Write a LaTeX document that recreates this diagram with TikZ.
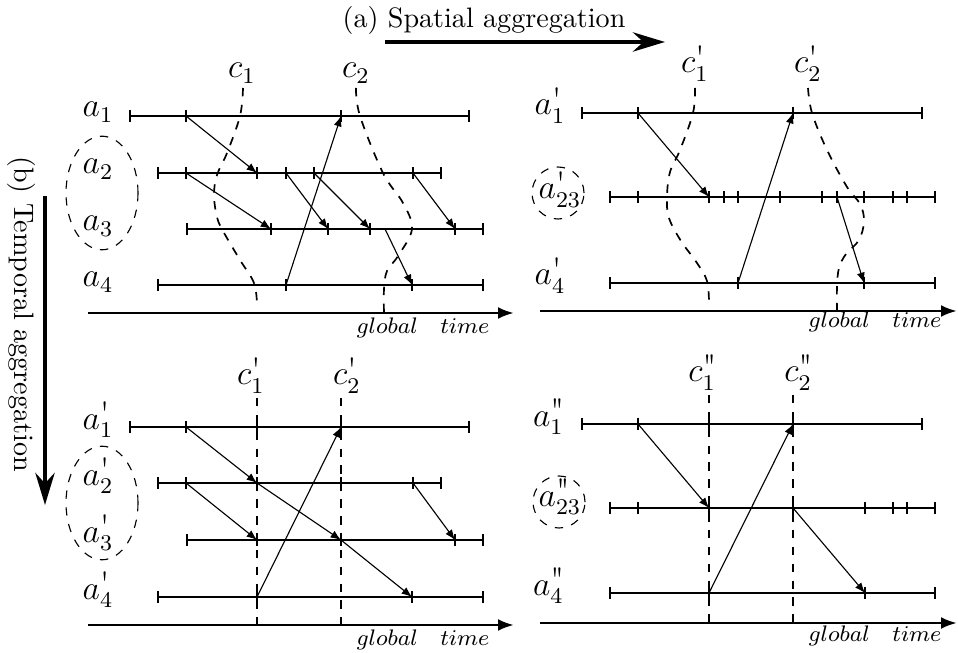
\documentclass[tikz,border=0pt]{standalone}
\usepackage{amsmath}
\usetikzlibrary{arrows.meta}
\newcommand{\pmark}{^{\mbox{\large\raisebox{-3pt}[0pt][0pt]{\textquotesingle}}}}
\newcommand{\ppmark}{^{\mbox{\large\raisebox{-3pt}[0pt][0pt]{\textquotesingle\kern-0.14em\textquotesingle}}}}
% row of events on one process line: name, y, tick positions
\newcommand{\tlrow}[3]{\foreach \tx in {#3} {\coordinate (#1-\tx) at (\tx,#2); \draw[tline] (\tx,#2-6) -- (\tx,#2+6);}}

\begin{document}
\begin{tikzpicture}[x=0.125mm, y=-0.125mm,
  tline/.style={semithick},
  msg/.style={thin, -{Latex[length=1.3mm, width=1mm]}},
  cut/.style={semithick, dashed},
  group/.style={thin, dashed},
  gaxis/.style={line width=1pt, -{Latex[length=2mm, width=1.5mm]}},
  aggarrow/.style={line width=1.6pt, -{Stealth[length=4mm, width=2.4mm]}},
  proc/.style={anchor=base east, inner sep=0pt, font=\large},
  cutlbl/.style={anchor=base, inner sep=0pt, font=\large},
  gtime/.style={anchor=base east, inner sep=0pt, font=\footnotesize},
]
\useasboundingbox (0,0) rectangle (958,653);
% aggregation directions
\node[anchor=base] (spa) at (484,28) {(a) Spatial aggregation};
\coordinate (sa0) at (385,42); \coordinate (sa1) at (665,42);
\draw[aggarrow] (sa0) -- (sa1);
\node[rotate=-90] (tea) at (22,314) {(b) Temporal aggregation};
\coordinate (ta0) at (45,196); \coordinate (ta1) at (45,505);
\draw[aggarrow] (ta0) -- (ta1);

% (top left) original processes
\tlrow{o1}{116}{130,186,341,469}
\tlrow{o2}{173}{158,186,257,286,314,413,441}
\tlrow{o3}{229}{187,271,328,370,455,483}
\tlrow{o4}{285}{158,286,412,483}
\coordinate (o3-385) at (385,229);
\draw[tline] (o1-130) -- (o1-469); \draw[tline] (o2-158) -- (o2-441); \draw[tline] (o3-187) -- (o3-483); \draw[tline] (o4-158) -- (o4-483);
\node[proc] (lo1) at (114,117) {$a_1$}; \node[proc] (lo2) at (114,174) {$a_2$}; \node[proc] (lo3) at (114,231) {$a_3$}; \node[proc] (lo4) at (114,287) {$a_4$};
\draw[group] (102,193) ellipse [x radius=4.5mm, y radius=7.1mm];
\draw[msg] (o1-186) -- (o2-257); \draw[msg] (o2-186) -- (o3-271); \draw[msg] (o2-286) -- (o3-328); \draw[msg] (o2-314) -- (o3-370);
\draw[msg] (o2-413) -- (o3-455); \draw[msg] (o3-385) -- (o4-412); \draw[msg] (o4-286) -- (o1-341);
\node[cutlbl] (oc1) at (242,78) {$c_1$}; \node[cutlbl] (oc2) at (356,78) {$c_2$};
\draw[cut] plot[smooth, tension=0.6] coordinates {(243,88) (240,116) (227,153) (217,175) (214,195) (217,217) (223,231) (240,260) (254,283) (257,305)};
\draw[cut] plot[smooth, tension=0.6] coordinates {(356,88) (360,116) (383,173) (403,203) (412,229) (398,256) (387,271) (384,289) (384,313)};
\coordinate (ox0) at (88,313); \coordinate (ox1) at (514,313);
\draw[gaxis] (ox0) -- (ox1);
\node[gtime] (ogt) at (490,334) {$global\quad time$};

% (top right) after spatial aggregation
\tlrow{s1}{113}{582,638,793,922}
\tlrow{s23}{197}{610,638,709,724,738,780,822,837,864,893,907,935}
\tlrow{s4}{283}{610,738,864,935}
\draw[tline] (s1-582) -- (s1-922); \draw[tline] (s23-610) -- (s23-935); \draw[tline] (s4-610) -- (s4-935);
\node[proc] (ls1) at (566,115) {$a\pmark_1$}; \node[anchor=base, inner sep=0pt, font=\large] (ls23) at (560,199) {$a\pmark_{23}$}; \node[proc] (ls4) at (566,285) {$a\pmark_4$};
\draw[group] (558,193) circle [radius=3.25mm];
\draw[msg] (s1-638) -- (s23-709); \draw[msg] (s4-738) -- (s1-793); \draw[msg] (s23-837) -- (s4-864);
\node[cutlbl] (sc1) at (695,73) {$c\pmark_1$}; \node[cutlbl] (sc2) at (808,73) {$c\pmark_2$};
\draw[cut] plot[smooth, tension=0.6] coordinates {(695,88) (693,113) (680,150) (670,172) (667,197) (669,218) (681,241) (697,263) (707,281) (709,303)};
\draw[cut] plot[smooth, tension=0.6] coordinates {(808,88) (812,113) (827,150) (847,187) (860,204) (864,221) (859,240) (846,254) (839,268) (837,287) (837,311)};
\coordinate (sx0) at (540,311); \coordinate (sx1) at (957,311);
\draw[gaxis] (sx0) -- (sx1);
\node[gtime] (sgt) at (942,328) {$global\quad time$};

% (bottom left) after temporal aggregation
\tlrow{t1}{427}{130,186,257,341,469}
\tlrow{t2}{483}{158,186,257,341,413,441}
\tlrow{t3}{540}{187,257,341,455,483}
\tlrow{t4}{597}{158,257,412,483}
\draw[tline] (t1-130) -- (t1-469); \draw[tline] (t2-158) -- (t2-441); \draw[tline] (t3-187) -- (t3-483); \draw[tline] (t4-158) -- (t4-483);
\node[proc] (lt1) at (114,429) {$a\pmark_1$}; \node[proc] (lt2) at (114,485) {$a\pmark_2$}; \node[proc] (lt3) at (114,542) {$a\pmark_3$}; \node[proc] (lt4) at (114,599) {$a\pmark_4$};
\draw[group] (102,503) ellipse [x radius=4.5mm, y radius=7.1mm];
\draw[msg] (t1-186) -- (t2-257); \draw[msg] (t2-186) -- (t3-257); \draw[msg] (t2-257) -- (t3-341); \draw[msg] (t3-341) -- (t4-412);
\draw[msg] (t2-413) -- (t3-455); \draw[msg] (t4-257) -- (t1-341);
\node[cutlbl] (tc1) at (251,385) {$c\pmark_1$}; \node[cutlbl] (tc2) at (347,385) {$c\pmark_2$};
\coordinate (tx0) at (88,625); \coordinate (tx1) at (514,625);
\draw[cut] (257,398) -- (257,625); \draw[cut] (341,398) -- (341,625);
\draw[gaxis] (tx0) -- (tx1);
\node[gtime] (tgt) at (490,645) {$global\quad time$};

% (bottom right) after both aggregations
\tlrow{b1}{424}{582,638,709,793,922}
\tlrow{b23}{508}{610,638,709,793,865,893,907,935}
\tlrow{b4}{593}{610,709,865,935}
\draw[tline] (b1-582) -- (b1-922); \draw[tline] (b23-610) -- (b23-935); \draw[tline] (b4-610) -- (b4-935);
\node[proc] (lb1) at (566,426) {$a\ppmark_1$}; \node[anchor=base, inner sep=0pt, font=\large] (lb23) at (560,506) {$a\ppmark_{23}$}; \node[proc] (lb4) at (566,595) {$a\ppmark_4$};
\draw[group] (559,502) circle [radius=3.25mm];
\draw[msg] (b1-638) -- (b23-709); \draw[msg] (b4-709) -- (b1-793); \draw[msg] (b23-793) -- (b4-865);
\node[cutlbl] (bc1) at (703,382) {$c\ppmark_1$}; \node[cutlbl] (bc2) at (799,382) {$c\ppmark_2$};
\draw[cut] (709,395) -- (709,623); \draw[cut] (793,395) -- (793,623);
\coordinate (bx0) at (540,623); \coordinate (bx1) at (957,623);
\draw[gaxis] (bx0) -- (bx1);
\node[gtime] (bgt) at (942,641) {$global\quad time$};
\end{tikzpicture}
\end{document}
